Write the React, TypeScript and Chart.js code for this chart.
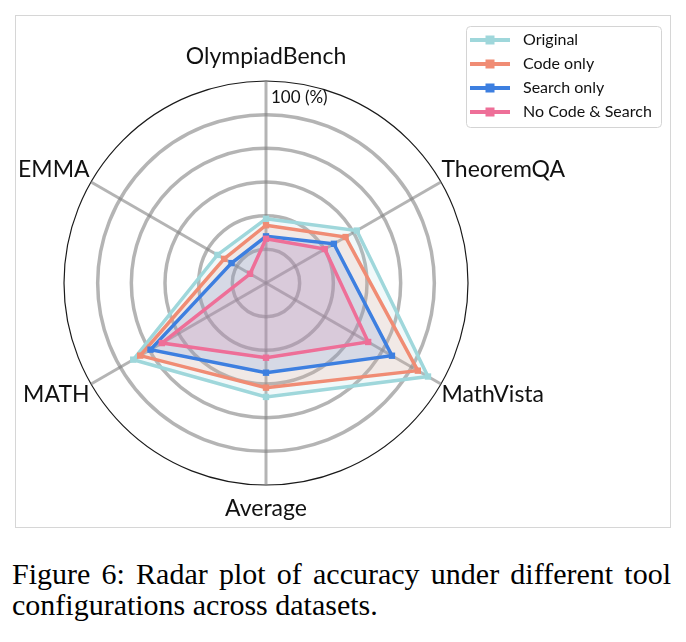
import React, { useEffect, useRef } from 'react';
import { Chart, registerables } from 'chart.js';

Chart.register(...registerables);

// ---------- data ----------
const categories = ['OlympiadBench', 'TheoremQA', 'MathVista', 'Average', 'MATH', 'EMMA'];
const seriesNames = ['Original', 'Code only', 'Search only', 'No Code & Search'];
const originalValues = [31.8, 51.9, 92.6, 56.4, 75.9, 27.8];
const codeOnlyValues = [28.6, 45.5, 86.8, 51.8, 71.9, 23.9];
const searchOnlyValues = [23.1, 38.8, 72.0, 44.4, 66.0, 19.7];
const noCodeSearchValues = [21.9, 33.6, 58.4, 37.0, 59.5, 9.1];
const scaleMin = 0;
const scaleMax = 100;
const tickCount = 7;
const maxTickLabel = '100 (%)';
const captionLine1 = 'Figure 6: Radar plot of accuracy under different tool';
const captionLine2 = 'configurations across datasets.';

const seriesValues = [originalValues, codeOnlyValues, searchOnlyValues, noCodeSearchValues];
const seriesColors = ['rgb(159,215,219)', 'rgb(240,140,116)', 'rgb(61,127,224)', 'rgb(238,111,152)'];
const seriesFills = ['rgba(159,215,219,0.15)', 'rgba(240,140,116,0.15)', 'rgba(61,127,224,0.15)', 'rgba(238,111,152,0.15)'];

const FONT = 'Lato, "Open Sans", sans-serif';

const labelPlugin = {
  id: 'customLabels',
  afterDraw(chart: any) {
    const ctx = chart.ctx;
    const scale = chart.scales.r;
    const cx = scale.xCenter;
    const cy = scale.yCenter;
    const R = scale.drawingArea;
    ctx.save();
    ctx.fillStyle = '#111';
    ctx.font = `23px ${FONT}`;
    ctx.textBaseline = 'alphabetic';
    categories.forEach((label, i) => {
      const p = scale.getPointPosition(i, R);
      const dx = p.x - cx;
      if (Math.abs(dx) < 1) {
        ctx.textAlign = 'center';
        const y = p.y < cy ? p.y - 17 : p.y + 31;
        ctx.fillText(label, p.x, y);
      } else {
        ctx.textAlign = dx > 0 ? 'left' : 'right';
        const x = p.x + (dx > 0 ? 0.5 : -1.5);
        const y = p.y < cy ? p.y - 5.5 : p.y + 18;
        ctx.fillText(label, x, y);
      }
    });
    // max tick label
    ctx.font = `17px ${FONT}`;
    ctx.textAlign = 'left';
    ctx.fillText(maxTickLabel, cx + 5, cy - R + 22);

    // legend
    const lx = 466.5, ly = 26.5, lw = 195, lh = 101;
    ctx.strokeStyle = '#d4d4d4';
    ctx.lineWidth = 1;
    ctx.beginPath();
    if (ctx.roundRect) ctx.roundRect(lx, ly, lw, lh, 4); else ctx.rect(lx, ly, lw, lh);
    ctx.stroke();
    ctx.font = `16px ${FONT}`;
    ctx.textBaseline = 'middle';
    seriesNames.forEach((name, i) => {
      const y = 40 + i * 24;
      ctx.strokeStyle = seriesColors[i];
      ctx.lineWidth = 4;
      ctx.beginPath();
      ctx.moveTo(470, y);
      ctx.lineTo(510, y);
      ctx.stroke();
      ctx.fillStyle = seriesColors[i];
      ctx.fillRect(485.5, y - 4.5, 9, 9);
      ctx.fillStyle = '#111';
      ctx.fillText(name, 523, y);
    });
    ctx.restore();
  },
};

export default function App() {
  const canvasRef = useRef<HTMLCanvasElement | null>(null);

  useEffect(() => {
    if (!canvasRef.current) return;
    const chart = new Chart(canvasRef.current, {
      type: 'radar',
      data: {
        labels: categories,
        datasets: seriesNames.map((name, i) => ({
          label: name,
          data: seriesValues[i],
          borderColor: seriesColors[i],
          backgroundColor: seriesFills[i],
          pointBackgroundColor: seriesColors[i],
          pointBorderColor: seriesColors[i],
          pointBorderWidth: 0,
          pointStyle: 'rect',
          pointRadius: 4.5,
          borderWidth: 3.5,
          fill: true,
          tension: 0,
          order: seriesNames.length - 1 - i,
        })),
      },
      options: {
        responsive: false,
        maintainAspectRatio: false,
        animation: false,
        layout: { padding: { left: 64, top: 81, right: 218, bottom: 55 } },
        plugins: {
          legend: { display: false },
          tooltip: { enabled: false },
        },
        scales: {
          r: {
            min: scaleMin,
            max: scaleMax,
            ticks: { display: false, count: tickCount },
            pointLabels: { display: false },
            grid: {
              circular: true,
              color: (c: any) => (c.index === tickCount - 1 ? '#1a1a1a' : 'rgba(130,130,130,0.6)'),
              lineWidth: (c: any) => (c.index === tickCount - 1 ? 1.2 : 3.5),
            },
            angleLines: { color: 'rgba(130,130,130,0.6)', lineWidth: 3 },
          },
        },
      },
      plugins: [labelPlugin],
    } as any);
    return () => chart.destroy();
  }, []);

  return (
    <div style={{ position: 'absolute', left: 0, top: 0, width: 686, height: 642, background: '#fff' }}>
      <div
        style={{
          position: 'absolute',
          left: 15,
          top: 15,
          width: 654,
          height: 511,
          border: '1px solid #d6d6d6',
        }}
      />
      <canvas
        ref={canvasRef}
        width={686}
        height={540}
        style={{ position: 'absolute', left: 0, top: 0, width: 686, height: 540 }}
      />
      <div
        style={{
          position: 'absolute',
          left: 12,
          top: 558,
          width: 659,
          fontFamily: '"Liberation Serif", "Times New Roman", serif',
          fontSize: 30,
          lineHeight: '31px',
          color: '#000',
        }}
      >
        <div style={{ textAlign: 'justify', textAlignLast: 'justify', whiteSpace: 'nowrap' as any }}>{captionLine1}</div>
        <div>{captionLine2}</div>
      </div>
    </div>
  );
}
